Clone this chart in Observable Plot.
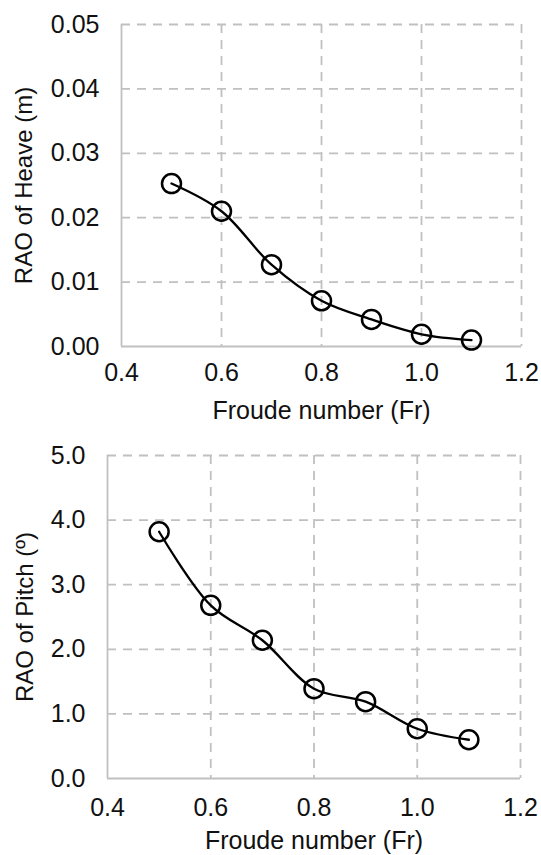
<!DOCTYPE html>
<html>
<head>
<meta charset="utf-8">
<script src="https://cdn.jsdelivr.net/npm/d3@7"></script>
<script src="https://cdn.jsdelivr.net/npm/@observablehq/plot@0.6"></script>
<style>
  html, body { margin: 0; padding: 0; background: #fff; }
  #charts svg { display: block; }
</style>
</head>
<body>
<div id="charts"></div>
<script>
// Data
const froude = [0.5, 0.6, 0.7, 0.8, 0.9, 1.0, 1.1];
const heaveRAO = [0.0253, 0.0210, 0.0127, 0.0071, 0.0042, 0.0019, 0.0010];
const pitchRAO = [3.82, 2.68, 2.14, 1.39, 1.19, 0.77, 0.60];
const xTicks = [0.4, 0.6, 0.8, 1.0, 1.2];
const heaveTicks = [0, 0.01, 0.02, 0.03, 0.04, 0.05];
const pitchTicks = [0, 1, 2, 3, 4, 5];
const xTitle = "Froude number (Fr)";
const heaveTitle = "RAO of Heave (m)";
const pitchTitle = "RAO of Pitch (º)";

const heaveData = froude.map((x, i) => ({x, y: heaveRAO[i]}));
const pitchData = froude.map((x, i) => ({x, y: pitchRAO[i]}));

const FONT = "'Liberation Sans', Arial, sans-serif";
const gridColor = "#c0c0c0";
const textColor = "#111";

function makeChart({data, yTicks, yFormat, yTitle, height, marginLeft, marginRight, marginTop, marginBottom, xPad, xTitleDy, yTitleDx}) {
  const yMax = yTicks[yTicks.length - 1];
  return Plot.plot({
    width: 541,
    height,
    marginLeft, marginRight, marginTop, marginBottom,
    style: {fontFamily: FONT, color: textColor, background: "#fff", overflow: "visible"},
    x: {domain: [0.4, 1.2]},
    y: {domain: [0, yMax]},
    marks: [
      Plot.gridX(xTicks.slice(1), {stroke: gridColor, strokeOpacity: 1, strokeWidth: 1.8, strokeDasharray: "9,7"}),
      Plot.gridY(yTicks.slice(1), {stroke: gridColor, strokeOpacity: 1, strokeWidth: 1.8, strokeDasharray: "9,7"}),
      Plot.ruleX([0.4], {stroke: gridColor, strokeWidth: 1.8}),
      Plot.ruleY([0], {stroke: gridColor, strokeWidth: 1.8}),
      Plot.axisX(xTicks, {tickSize: 0, tickPadding: xPad, fontSize: 25, label: null, tickFormat: d3.format(".1f")}),
      Plot.axisY(yTicks, {tickSize: 0, tickPadding: 22, fontSize: 25, label: null, tickFormat: d3.format(yFormat)}),
      Plot.line(data, {x: "x", y: "y", curve: "catmull-rom", stroke: "#000", strokeWidth: 2.3}),
      Plot.dot(data, {x: "x", y: "y", r: 9.5, stroke: "#000", strokeWidth: 2.5, fill: "none"}),
      Plot.text([xTitle], {frameAnchor: "bottom", dy: xTitleDy, lineAnchor: "middle", textAnchor: "middle", fontSize: 25, fill: textColor}),
      Plot.text([yTitle], {frameAnchor: "left", dx: yTitleDx, rotate: -90, lineAnchor: "middle", textAnchor: "middle", fontSize: 24, fill: textColor})
    ]
  });
}

const heaveChart = makeChart({
  data: heaveData, yTicks: heaveTicks, yFormat: ".2f", yTitle: heaveTitle,
  height: 430, marginLeft: 121, marginRight: 20, marginTop: 24, marginBottom: 84,
  xPad: 17, xTitleDy: 64, yTitleDx: -97
});
const pitchChart = makeChart({
  data: pitchData, yTicks: pitchTicks, yFormat: ".1f", yTitle: pitchTitle,
  height: 425, marginLeft: 107, marginRight: 21, marginTop: 25, marginBottom: 77,
  xPad: 20, xTitleDy: 62, yTitleDx: -82
});
document.getElementById("charts").append(heaveChart, pitchChart);
</script>
</body>
</html>
